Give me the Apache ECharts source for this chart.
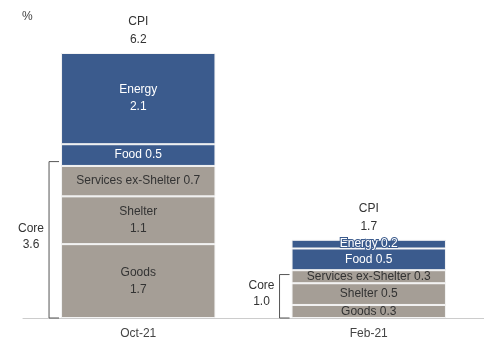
<!DOCTYPE html>
<html>
<head>
<meta charset="utf-8">
<script src="https://cdn.jsdelivr.net/npm/echarts@6/dist/echarts.min.js"></script>
<style>
  html, body { margin: 0; padding: 0; background: #fff; }
  #main { width: 484px; height: 344px; }
</style>
</head>
<body>
<div id="main"></div>
<script>
// 数据
var categories = ['Oct-21', 'Feb-21'];
var goods = [1.7, 0.3];
var shelter = [1.1, 0.5];
var servicesExShelter = [0.7, 0.3];
var food = [0.5, 0.5];
var energy = [2.1, 0.2];
var cpi = [6.2, 1.7];
var core = [3.6, 1.0];

var BLUE = '#3b5b8d';
var GRAY = '#a59e96';
var FONT = 'Liberation Sans, Arial, sans-serif';

// 柱子里的标签：大块换行
function segLabel(name) {
	return function (p) {
		var sep = p.value >= 1 ? '\n' : ' ';
		return name + sep + p.value.toFixed(1);
	};
}

function barSeries(name, data, color, textColor) {
	var s = {
		name: name,
		type: 'bar',
		stack: 'cpi',
		barWidth: '67%',
		data: data,
		itemStyle: {
			color: color,
			borderColor: '#f4f4f4',
			borderWidth: 1
		},
		label: {
			show: true,
			position: 'inside',
			color: textColor,
			fontFamily: FONT,
			fontSize: 12,
			lineHeight: 17,
			formatter: segLabel(name)
		},
		emphasis: { disabled: true }
	};
	if (color === BLUE) {
		// 小块标签溢出到白底时仍可见
		s.label.textBorderColor = BLUE;
		s.label.textBorderWidth = 2;
	}
	return s;
}

var totals = [];
for (var i = 0; i < categories.length; i++) {
	totals.push(goods[i] + shelter[i] + servicesExShelter[i] + food[i] + energy[i]);
}

var chart = echarts.init(document.getElementById('main'));
var option = {
	animation: false,
	title: {
		text: '%',
		left: 17,
		top: 6,
		textStyle: { fontFamily: FONT, fontSize: 12, fontWeight: 'normal', color: '#444' }
	},
	grid: { left: 23, right: 0, top: 53, bottom: 26 },
	xAxis: {
		type: 'category',
		data: categories,
		axisLine: { lineStyle: { color: '#cccccc', width: 1 } },
		axisTick: { show: false },
		axisLabel: { color: '#444', fontFamily: FONT, fontSize: 12, margin: 10 }
	},
	yAxis: {
		type: 'value',
		min: 0,
		max: totals[0],
		show: false
	},
	series: [
		barSeries('Goods', goods, GRAY, '#333'),
		barSeries('Shelter', shelter, GRAY, '#333'),
		barSeries('Services ex-Shelter', servicesExShelter, GRAY, '#333'),
		barSeries('Food', food, BLUE, '#ffffff'),
		barSeries('Energy', energy, BLUE, '#ffffff'),
		{
			// CPI 总计标签
			type: 'custom',
			silent: true,
			data: categories.map(function (c, i) { return [i, totals[i], cpi[i]]; }),
			renderItem: function (params, api) {
				var pt = api.coord([api.value(0), api.value(1)]);
				return {
					type: 'text',
					style: {
						x: pt[0],
						y: pt[1] - 4,
						text: 'CPI\n' + api.value(2).toFixed(1),
						align: 'center',
						verticalAlign: 'bottom',
						fill: '#333',
						font: '12px ' + FONT,
						lineHeight: 18
					}
				};
			}
		},
		{
			// Core 括号
			type: 'custom',
			silent: true,
			data: categories.map(function (c, i) { return [i, core[i]]; }),
			renderItem: function (params, api) {
				var bottom = api.coord([api.value(0), 0]);
				var top = api.coord([api.value(0), api.value(1)]);
				var bw = api.size([1, 0])[0] * 0.67;
				var left = bottom[0] - bw / 2;
				var vx = left - 12;
				var tx = left - 2;
				return {
					type: 'group',
					children: [
						{
							type: 'polyline',
							shape: { points: [[tx, top[1]], [vx, top[1]], [vx, bottom[1]], [tx, bottom[1]]] },
							style: { stroke: '#555', lineWidth: 1, fill: null }
						},
						{
							type: 'text',
							style: {
								x: vx - 18,
								y: (top[1] + bottom[1]) / 2 - 3,
								text: 'Core\n' + api.value(1).toFixed(1),
								align: 'center',
								verticalAlign: 'middle',
								fill: '#333',
								font: '12px ' + FONT,
								lineHeight: 16
							}
						}
					]
				};
			}
		}
	]
};
chart.setOption(option);
</script>
</body>
</html>
